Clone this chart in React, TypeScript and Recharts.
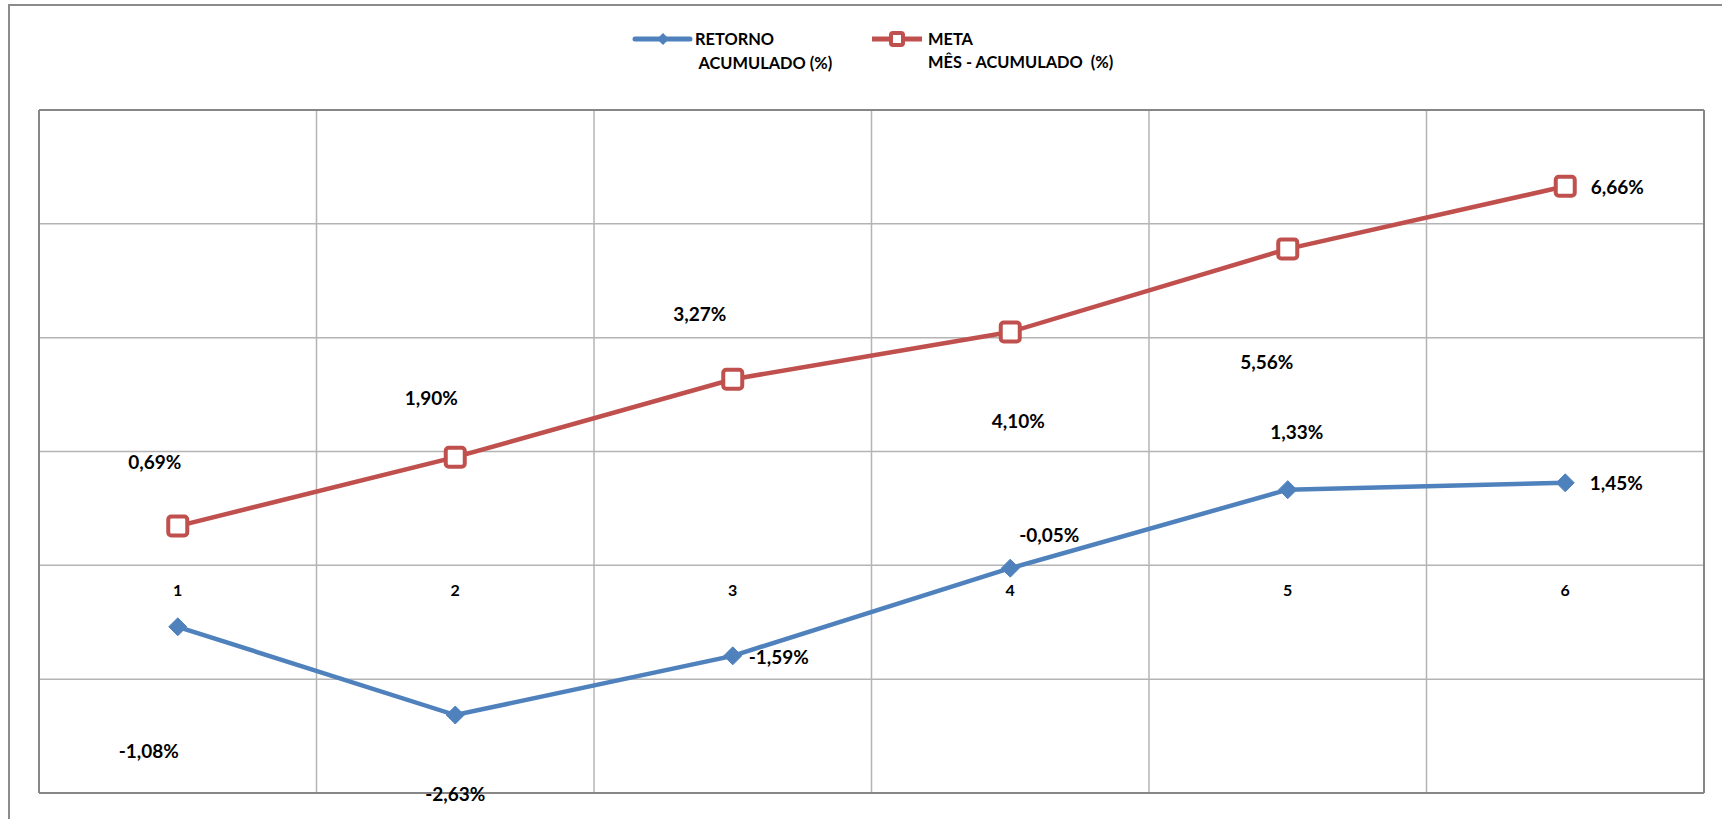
import React from 'react';
import { LineChart, Line, XAxis, YAxis, CartesianGrid, LabelList, ReferenceDot } from 'recharts';

const categories = ['1', '2', '3', '4', '5', '6'];
const retorno = [-1.08, -2.63, -1.59, -0.05, 1.33, 1.45];
const meta = [0.69, 1.9, 3.27, 4.1, 5.56, 6.66];
const yTicks = [-4, -2, 0, 2, 4, 6, 8];
const retornoName = ['RETORNO', ' ACUMULADO (%)'];
const metaName = ['META', 'MÊS - ACUMULADO  (%)'];

// label offsets (px) relative to each point, as placed in the original
const retornoLabelOffsets = [[-29, 124], [0, 78], [46, 1], [39, -34], [9, -58], [51, 0]];
const metaLabelOffsets = [[-23, -65], [-24, -60], [-33, -66], [8, 89], [-21, 113], [52, 0]];

const data = categories.map((c, i) => ({ name: c, retorno: retorno[i], meta: meta[i] }));

const W = 1722;
const H = 819;
const MARGIN = { top: 110, left: 39, right: 18, bottom: 26 };
const PLOT_W = W - MARGIN.left - MARGIN.right;
const HALF_BAND = PLOT_W / (2 * categories.length);

const BLUE = '#4f81bd';
const RED = '#c0504d';
const FONT = 'Lato, "Open Sans", sans-serif';

const fmt = (v: number) => v.toFixed(2).replace('.', ',') + '%';

const makeLabel = (offsets: number[][]) => (props: any) => {
  const { x, y, value, index } = props;
  const [dx, dy] = offsets[index] || [0, 0];
  return (
    <text x={x + dx} y={y + dy} textAnchor="middle" dominantBaseline="central" fontFamily={FONT} fontWeight={700} fontSize={19} fill="#000">
      {fmt(Number(value))}
    </text>
  );
};

const Diamond = (props: any) => {
  const { cx, cy } = props;
  if (cx == null || cy == null) return null;
  const r = 9;
  return <polygon points={`${cx},${cy - r} ${cx + r},${cy} ${cx},${cy + r} ${cx - r},${cy}`} fill={BLUE} stroke={BLUE} strokeWidth={1} />;
};

const Square = (props: any) => {
  const { cx, cy } = props;
  if (cx == null || cy == null) return null;
  const s = 19;
  return <rect x={cx - s / 2} y={cy - s / 2} width={s} height={s} rx={3} fill="#fff" stroke={RED} strokeWidth={4} />;
};

const LegendBlock = () => (
  <svg width={W} height={90} style={{ position: 'absolute', left: 0, top: 0, display: 'block' }}>
    <g>
      <line x1={635} y1={39} x2={690} y2={39} stroke={BLUE} strokeWidth={5} strokeLinecap="round" />
      <polygon points="663,33 669,39 663,45 657,39" fill={BLUE} />
      <text x={695} y={45} fontFamily={FONT} fontWeight={700} fontSize={16.4} fill="#000" style={{ whiteSpace: 'pre' }}>{retornoName[0]}</text>
      <text x={695} y={69} fontFamily={FONT} fontWeight={700} fontSize={16.4} fill="#000" style={{ whiteSpace: 'pre' }}>{retornoName[1]}</text>
    </g>
    <g>
      <line x1={872} y1={39} x2={922} y2={39} stroke={RED} strokeWidth={5} />
      <rect x={891} y={33} width={12} height={12} rx={2} fill="#fff" stroke={RED} strokeWidth={4} />
      <text x={928} y={45} fontFamily={FONT} fontWeight={700} fontSize={16.4} fill="#000" style={{ whiteSpace: 'pre' }}>{metaName[0]}</text>
      <text x={928} y={68} fontFamily={FONT} fontWeight={700} fontSize={16.4} fill="#000" style={{ whiteSpace: 'pre' }}>{metaName[1]}</text>
    </g>
  </svg>
);

const innerVertical = ({ offset }: any) => {
  const out: number[] = [];
  for (let i = 1; i < categories.length; i++) out.push(offset.left + (i * offset.width) / categories.length);
  return out;
};
const edgeVertical = ({ offset }: any) => [offset.left, offset.left + offset.width];
const edgeHorizontal = ({ offset }: any) => [offset.top, offset.top + offset.height];

export default function App() {
  return (
    <div style={{ position: 'absolute', left: 0, top: 0, width: W, height: H, overflow: 'hidden', background: '#fff' }}>
      <div style={{ position: 'absolute', left: 8, top: 4, width: W, height: H, borderLeft: '2px solid #8c8c8c', borderTop: '2px solid #8c8c8c' }} />
      <div style={{ position: 'absolute', left: 0, top: 0 }}>
        <LineChart width={W} height={H} data={data} margin={MARGIN}>
          <CartesianGrid stroke="#b4b4b4" strokeWidth={1.5} verticalCoordinatesGenerator={innerVertical} />
          <CartesianGrid stroke="#878787" strokeWidth={2} verticalCoordinatesGenerator={edgeVertical} horizontalCoordinatesGenerator={edgeHorizontal} />
          <XAxis dataKey="name" hide padding={{ left: HALF_BAND, right: HALF_BAND }} />
          <YAxis hide domain={[-4, 8]} ticks={yTicks} type="number" />
          {categories.map((c) => (
            <ReferenceDot
              key={c}
              x={c}
              y={0}
              r={0}
              fill="none"
              stroke="none"
              label={{
                content: (p: any) => {
                  const vb = p.viewBox || {};
                  return (
                    <text x={vb.x + (vb.width || 0) / 2} y={vb.y + (vb.height || 0) / 2 + 24} textAnchor="middle" dominantBaseline="central" fontFamily={FONT} fontWeight={700} fontSize={16} fill="#000">
                      {c}
                    </text>
                  );
                },
              }}
            />
          ))}
          <Line dataKey="retorno" name={retornoName.join(' ')} stroke={BLUE} strokeWidth={4.5} dot={<Diamond />} activeDot={false} isAnimationActive={false}>
            <LabelList dataKey="retorno" content={makeLabel(retornoLabelOffsets)} />
          </Line>
          <Line dataKey="meta" name={metaName.join(' ')} stroke={RED} strokeWidth={4.5} dot={<Square />} activeDot={false} isAnimationActive={false}>
            <LabelList dataKey="meta" content={makeLabel(metaLabelOffsets)} />
          </Line>
        </LineChart>
      </div>
      <LegendBlock />
    </div>
  );
}
